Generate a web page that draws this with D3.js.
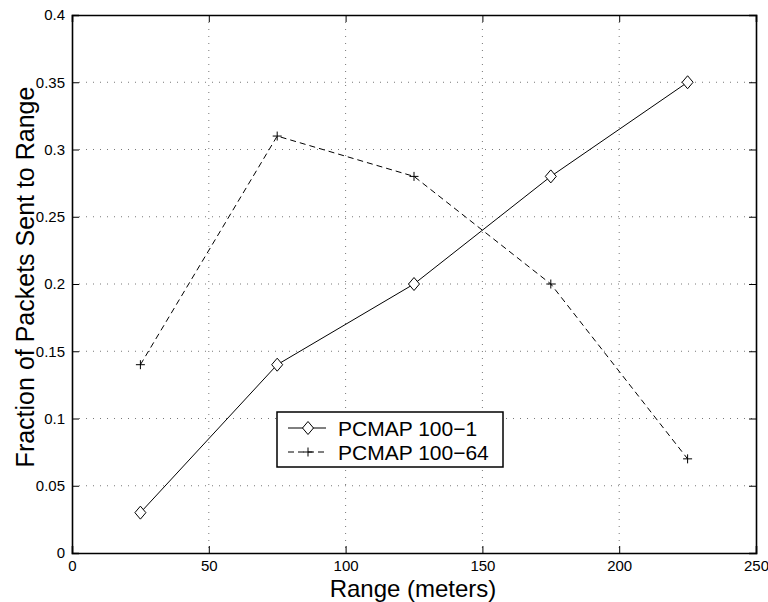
<!DOCTYPE html>
<html>
<head>
<meta charset="utf-8">
<script src="https://cdn.jsdelivr.net/npm/d3@7"></script>
<style>
body { margin: 0; background: #fff; }
text { font-family: Helvetica, Arial, "Liberation Sans", sans-serif; }
</style>
</head>
<body>
<div id="chart"></div>
<script>
let ranges = [25, 75, 125, 175, 225];
let pcmap1 = [0.03, 0.14, 0.20, 0.28, 0.35];
let pcmap64 = [0.14, 0.31, 0.28, 0.20, 0.07];
let xTicks = [0, 50, 100, 150, 200, 250];
let yTicks = [0, 0.05, 0.1, 0.15, 0.2, 0.25, 0.3, 0.35, 0.4];
let seriesNames = ["PCMAP 100\u22121", "PCMAP 100\u221264"];

let margin = {top: 15, right: 12, left: 72, bottom: 49};
let width = 768 - margin.left - margin.right;
let height = 602 - margin.top - margin.bottom;

let svg = d3.select("#chart")
    .append("svg")
    .attr("width", 768)
    .attr("height", 602);

let chart = svg.append("g")
    .attr("transform", "translate(" + margin.left + "," + margin.top + ")");

let xScale = d3.scaleLinear().domain([0, 250]).range([0, width]);
let yScale = d3.scaleLinear().domain([0, 0.4]).range([height, 0]);

// dotted grid
chart.append("g")
    .selectAll("line")
    .data(xTicks.slice(1, -1))
    .join("line")
    .attr("x1", d => xScale(d)).attr("x2", d => xScale(d))
    .attr("y1", 0).attr("y2", height)
    .attr("stroke", "#555").attr("stroke-width", 0.8)
    .attr("stroke-dasharray", "1,6");

chart.append("g")
    .selectAll("line")
    .data(yTicks.slice(1, -1))
    .join("line")
    .attr("y1", d => yScale(d)).attr("y2", d => yScale(d))
    .attr("x1", 0).attr("x2", width)
    .attr("stroke", "#555").attr("stroke-width", 0.8)
    .attr("stroke-dasharray", "1,6");

// axes with ticks pointing inside
let fmt = d => d3.format("")(d);
let xAxis = d3.axisBottom(xScale).tickValues(xTicks).tickSize(-7).tickPadding(7).tickFormat(fmt);
let yAxis = d3.axisLeft(yScale).tickValues(yTicks).tickSize(-7).tickPadding(7).tickFormat(fmt);

chart.append("g")
    .attr("transform", "translate(0," + height + ")")
    .call(xAxis);
chart.append("g")
    .call(yAxis);
chart.append("g")
    .call(d3.axisTop(xScale).tickValues(xTicks).tickSize(-7).tickFormat(""));
chart.append("g")
    .attr("transform", "translate(" + width + ",0)")
    .call(d3.axisRight(yScale).tickValues(yTicks).tickSize(-7).tickFormat(""));

chart.selectAll(".domain").attr("stroke", "#000").attr("stroke-width", 1.6);
chart.selectAll(".tick line").attr("stroke", "#000");
chart.selectAll(".tick text").attr("font-size", 15).attr("fill", "#000")
    .style("font-family", "Helvetica, Arial, 'Liberation Sans', sans-serif");

// series lines
let line = d3.line()
    .x((d, i) => xScale(ranges[i]))
    .y(d => yScale(d));

chart.append("path")
    .datum(pcmap1)
    .attr("d", line)
    .attr("fill", "none").attr("stroke", "#000").attr("stroke-width", 1);

chart.append("path")
    .datum(pcmap64)
    .attr("d", line)
    .attr("fill", "none").attr("stroke", "#000").attr("stroke-width", 1)
    .attr("stroke-dasharray", "6,4");

let diamondPath = "M0,-6.5L5.5,0L0,6.5L-5.5,0Z";
let plusPath = "M-4.5,0H4.5M0,-4.5V4.5";

chart.append("g")
    .selectAll("path")
    .data(pcmap1)
    .join("path")
    .attr("transform", (d, i) => "translate(" + xScale(ranges[i]) + "," + yScale(d) + ")")
    .attr("d", diamondPath)
    .attr("fill", "#fff").attr("stroke", "#000").attr("stroke-width", 1);

chart.append("g")
    .selectAll("path")
    .data(pcmap64)
    .join("path")
    .attr("transform", (d, i) => "translate(" + xScale(ranges[i]) + "," + yScale(d) + ")")
    .attr("d", plusPath)
    .attr("fill", "none").attr("stroke", "#000").attr("stroke-width", 1);

// legend
let legend = svg.append("g").attr("transform", "translate(277,412)");
legend.append("rect")
    .attr("width", 226).attr("height", 55)
    .attr("fill", "#fff").attr("stroke", "#000").attr("stroke-width", 1.5);

legend.append("line").attr("x1", 11).attr("x2", 49).attr("y1", 16).attr("y2", 16)
    .attr("stroke", "#000");
legend.append("path").attr("transform", "translate(31,16)")
    .attr("d", diamondPath)
    .attr("fill", "#fff").attr("stroke", "#000");
legend.append("line").attr("x1", 11).attr("x2", 49).attr("y1", 40).attr("y2", 40)
    .attr("stroke", "#000").attr("stroke-dasharray", "6,4");
legend.append("path").attr("transform", "translate(31,40)")
    .attr("d", plusPath)
    .attr("fill", "none").attr("stroke", "#000");

legend.selectAll("text.lbl")
    .data(seriesNames)
    .join("text")
    .attr("class", "lbl")
    .attr("x", 61)
    .attr("y", (d, i) => 16 + i * 24)
    .attr("dy", "0.36em")
    .attr("font-size", 21)
    .text(d => d);

// axis titles
svg.append("text")
    .attr("x", 413)
    .attr("y", 597)
    .attr("text-anchor", "middle")
    .attr("font-size", 24)
    .text("Range (meters)");

svg.append("text")
    .attr("transform", "translate(34,277) rotate(-90)")
    .attr("text-anchor", "middle")
    .attr("font-size", 25)
    .text("Fraction of Packets Sent to Range");
</script>
</body>
</html>
